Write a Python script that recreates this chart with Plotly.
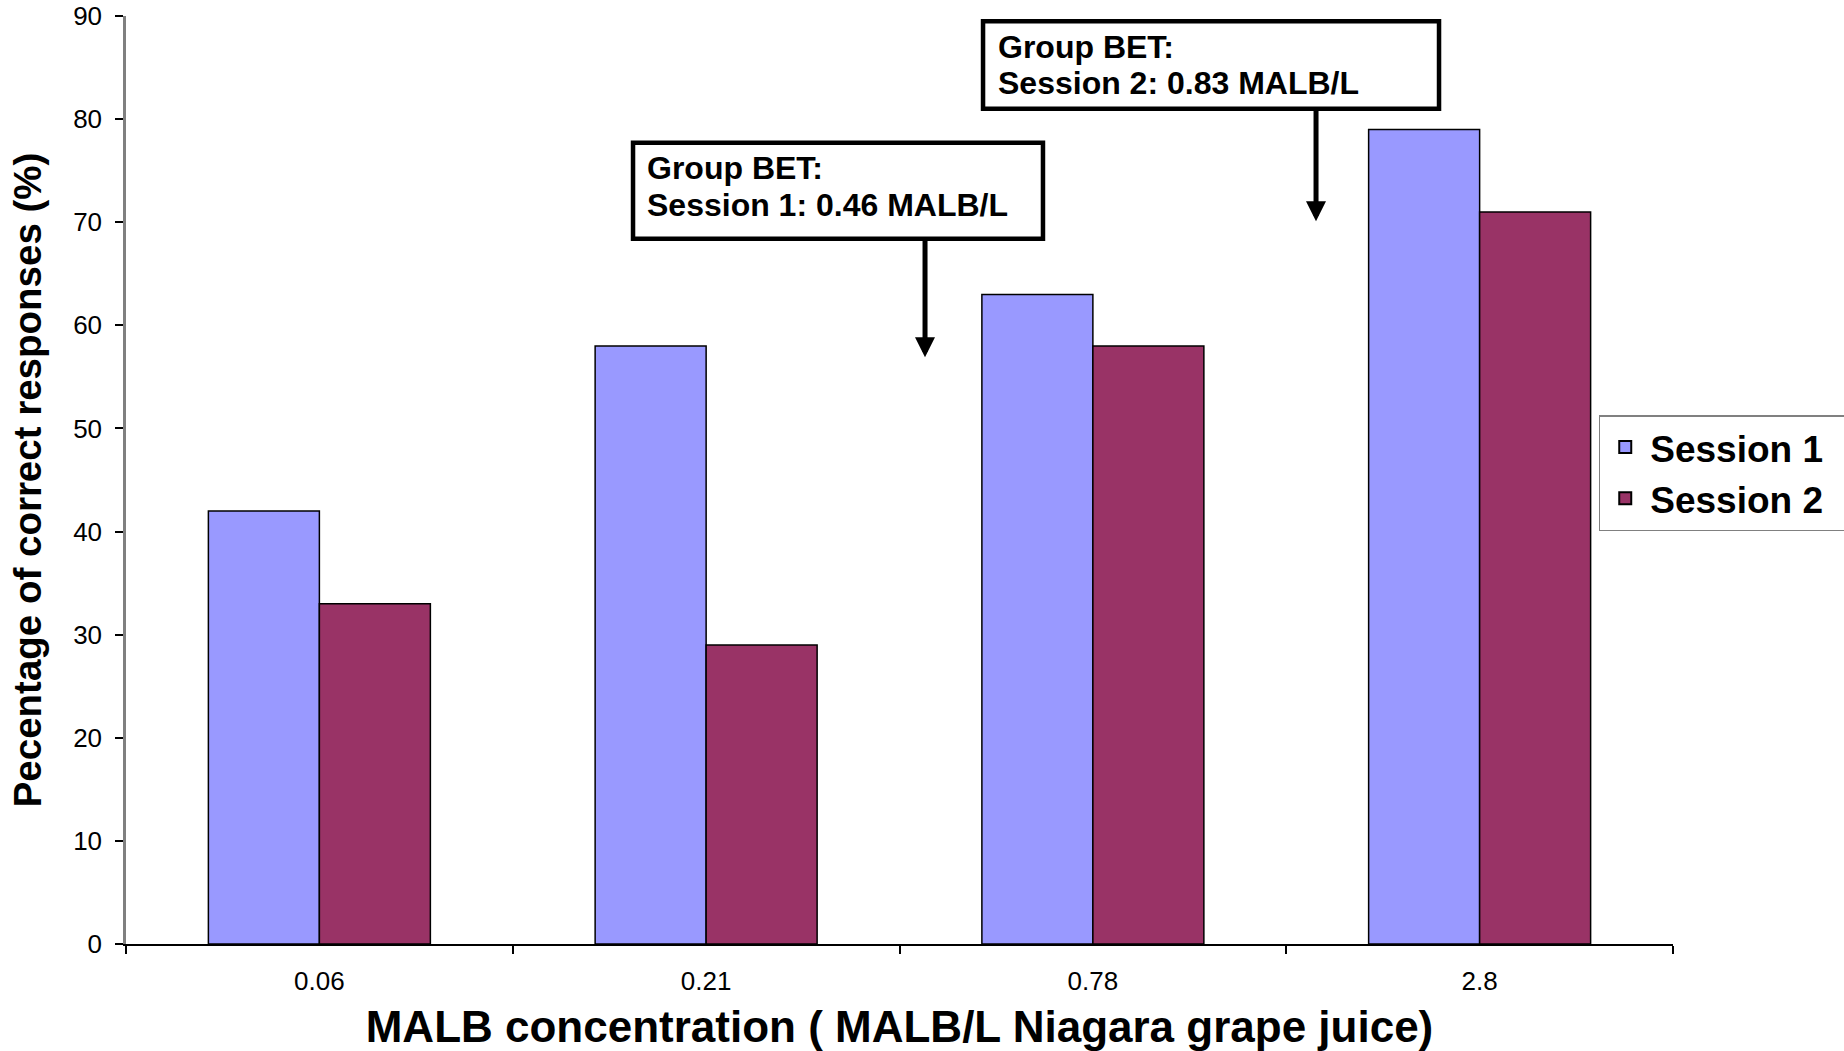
import plotly.graph_objects as go

# Concentrations tested (MALB/L Niagara grape juice)
concentrations = ["0.06", "0.21", "0.78", "2.8"]

# Percentage of correct responses per session
session1 = [42, 58, 63, 79]
session2 = [33, 29, 58, 71]

y_ticks = [0, 10, 20, 30, 40, 50, 60, 70, 80, 90]

# Group BET callouts: heading, detail line
callout_title = "Group BET:"
callout_lines = ["Session 1: 0.46 MALB/L", "Session 2: 0.83 MALB/L"]

FONT = "Liberation Sans, Arial, sans-serif"

# trailing spaces widen the legend frame so it runs off the right edge
fig = go.Figure()
fig.add_trace(go.Bar(
    name="<b>Session 1</b>&nbsp;&nbsp;&nbsp;&nbsp;&nbsp;", x=concentrations, y=session1,
    marker=dict(color="#9999FF", line=dict(color="#000000", width=1.5)),
))
fig.add_trace(go.Bar(
    name="<b>Session 2</b>&nbsp;&nbsp;&nbsp;&nbsp;&nbsp;", x=concentrations, y=session2,
    marker=dict(color="#993366", line=dict(color="#000000", width=1.5)),
))

# Callout frames, text lines and arrows (positions on the category axis)
callouts = [
    dict(box=(0.811, 1.871, 68.4, 77.7), text_x=0.843, rows=(75.3, 71.7),
         arrow=(1.566, 68.4, 56.9)),
    dict(box=(1.716, 2.895, 81.0, 89.5), text_x=1.750, rows=(87.0, 83.5),
         arrow=(2.577, 81.0, 70.1)),
]
box_font = dict(family=FONT, size=32, color="#000000")
for c, line in zip(callouts, callout_lines):
    x0, x1, y0, y1 = c["box"]
    fig.add_shape(
        type="rect", xref="x", yref="y", x0=x0, x1=x1, y0=y0, y1=y1,
        fillcolor="#FFFFFF", line=dict(color="#000000", width=4.5), layer="above",
    )
    for row_y, row_text in zip(c["rows"], [callout_title, line]):
        fig.add_annotation(
            xref="x", yref="y", x=c["text_x"], y=row_y,
            xanchor="left", yanchor="middle", showarrow=False,
            text=f"<b>{row_text}</b>", font=box_font,
        )
    tip_x, tail_y, tip_y = c["arrow"]
    fig.add_annotation(
        xref="x", yref="y", axref="x", ayref="y",
        x=tip_x, y=tip_y, ax=tip_x, ay=tail_y,
        text="", showarrow=True, arrowhead=2, arrowsize=0.8,
        arrowwidth=5, arrowcolor="#000000", standoff=0, startstandoff=0,
    )

fig.update_layout(
    width=1844, height=1051,
    margin=dict(l=126, r=171, t=16, b=107, autoexpand=False),
    paper_bgcolor="#FFFFFF", plot_bgcolor="#FFFFFF",
    barmode="group", bargap=0.426, bargroupgap=0,
    font=dict(family=FONT, color="#000000"),
    showlegend=True,
    legend=dict(
        x=0.952, y=0.570, xanchor="left", yanchor="top",
        bgcolor="#FFFFFF", bordercolor="#808080", borderwidth=1.5,
        font=dict(family=FONT, size=37, color="#000000"),
        itemwidth=40, itemsizing="constant",
    ),
)

fig.update_xaxes(
    type="category",
    showline=True, linecolor="#000000", linewidth=1.5,
    ticks="outside", tickson="boundaries", ticklen=8, tickwidth=1.5,
    tickcolor="#000000", ticklabelstandoff=13,
    tickfont=dict(family=FONT, size=26, color="#000000"),
    showgrid=False, zeroline=False,
    title=dict(
        text="<b>MALB concentration ( MALB/L Niagara grape juice)</b>",
        font=dict(family=FONT, size=44, color="#000000"), standoff=22,
    ),
)

fig.update_yaxes(
    range=[0, 90], tickvals=y_ticks,
    showline=True, linecolor="#808080", linewidth=2.5,
    ticks="outside", ticklen=8, tickwidth=1.5, tickcolor="#000000",
    ticklabelstandoff=8,
    tickfont=dict(family=FONT, size=26, color="#000000"),
    showgrid=False, zeroline=False,
    title=dict(
        text="<b>Pecentage of correct responses (%)</b>",
        font=dict(family=FONT, size=38.5, color="#000000"), standoff=20,
    ),
)

fig.write_html("out.html")
